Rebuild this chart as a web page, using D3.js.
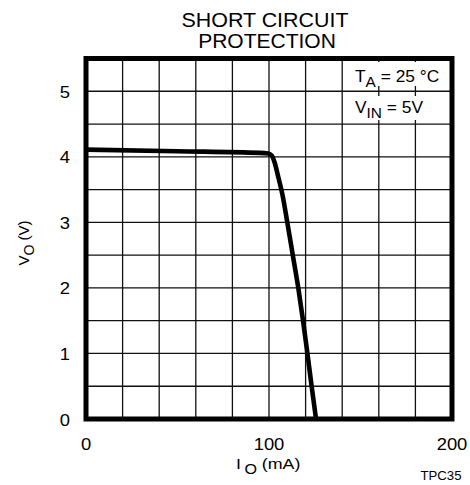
<!DOCTYPE html>
<html><head><meta charset="utf-8">
<script src="https://cdn.jsdelivr.net/npm/d3@7"></script>
<style>body{margin:0;background:#fff}svg{display:block;font-family:"Liberation Sans",Arial,sans-serif}</style>
</head><body><svg id="c" width="470" height="485"></svg>
<script>
const ioMA = [0, 50, 95, 99.5, 101.5, 103, 105, 107.5, 110, 113, 116, 118.6, 121, 123.3, 125.7];
const voV  = [4.11, 4.085, 4.06, 4.05, 4.02, 3.92, 3.7, 3.4, 3.0, 2.5, 2.0, 1.5, 1.0, 0.5, 0];
const xTicks = [0, 100, 200];
const yTicks = [0, 1, 2, 3, 4, 5];
const xGrid = d3.range(0, 201, 20);
const yGrid = d3.range(0, 5.51, 0.5);

const svg = d3.select("#c");
const x = d3.scaleLinear().domain([0, 200]).range([86, 452]);
const y = d3.scaleLinear().domain([0, 5.5]).range([419, 58.5]);

function stext(px, py, sx, size, anchor) {
  return svg.append("g").attr("transform", `translate(${px},${py}) scale(${sx},1)`)
    .append("text").attr("text-anchor", anchor || "start").attr("font-size", size);
}

// grid
svg.append("g").selectAll("line").data(xGrid).join("line")
  .attr("x1", d => x(d)).attr("x2", d => x(d)).attr("y1", y(0)).attr("y2", y(5.5))
  .attr("stroke", "#111").attr("stroke-width", 1.3);
svg.append("g").selectAll("line").data(yGrid).join("line")
  .attr("y1", d => y(d)).attr("y2", d => y(d)).attr("x1", x(0)).attr("x2", x(200))
  .attr("stroke", "#111").attr("stroke-width", 1.3);

// annotation backgrounds
svg.append("rect").attr("x", 346).attr("y", 62).attr("width", 102).attr("height", 24).attr("fill", "#fff");
svg.append("rect").attr("x", 346).attr("y", 96).attr("width", 102).attr("height", 24).attr("fill", "#fff");

// frame
svg.append("rect").attr("x", x(0)).attr("y", y(5.5)).attr("width", x(200) - x(0)).attr("height", y(0) - y(5.5))
  .attr("fill", "none").attr("stroke", "#000").attr("stroke-width", 5);

// curve
const pts = ioMA.map((d, i) => [d, voV[i]]);
svg.append("path").datum(pts)
  .attr("d", d3.line().x(d => x(d[0])).y(d => y(d[1])).curve(d3.curveMonotoneX))
  .attr("fill", "none").attr("stroke", "#000").attr("stroke-width", 4.6)
  .attr("stroke-linejoin", "round");

// tick labels
xTicks.forEach(d => stext(x(d), 450, 1.15, 16, "middle").text(d));
yTicks.forEach(d => stext(70, y(d) + 6.5, 1.15, 16, "end").text(d));

// title
stext(265, 27, 1.02, 21, "middle").text("SHORT CIRCUIT");
stext(267, 48, 1.0, 21, "middle").text("PROTECTION");

// x axis title
const xt = stext(236, 468.5, 1.15, 15.5, "start");
xt.append("tspan").text("I");
xt.append("tspan").attr("dx", 3).attr("dy", 5).attr("font-size", 14).text("O");
xt.append("tspan").attr("dy", -5).text(" (mA)");

// y axis title
const yt = svg.append("text").attr("transform", "translate(29,243) rotate(-90)")
  .attr("text-anchor", "middle").attr("font-size", 15);
yt.append("tspan").text("V");
yt.append("tspan").attr("dy", 5).attr("font-size", 14).text("O");
yt.append("tspan").attr("dy", -5).text(" (V)");

// annotations
const a1 = stext(355, 82.3, 1.1, 15.8, "start");
a1.append("tspan").text("T");
a1.append("tspan").attr("dy", 4.5).attr("font-size", 14).text("A");
a1.append("tspan").attr("dy", -4.5).text(" = 25 °C");
const a2 = stext(355, 112.5, 1.1, 15.8, "start");
a2.append("tspan").text("V");
a2.append("tspan").attr("dy", 5.5).attr("font-size", 14).text("IN");
a2.append("tspan").attr("dy", -5.5).text(" = 5V");

stext(441, 480, 1.1, 12, "middle").text("TPC35");
</script></body></html>
